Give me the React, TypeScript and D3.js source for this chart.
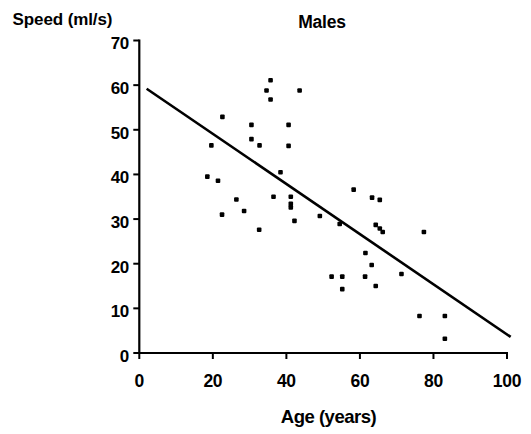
import React from 'react';
import * as d3 from 'd3';

// age (years) and speed (ml/s)
const ages = [
  35.7, 34.6, 35.7, 43.6, 22.6, 30.5, 40.6, 30.5, 32.7, 40.6, 19.6, 38.4,
  18.5, 21.4, 36.5, 41.2, 41.2, 41.2, 26.4, 28.5, 22.5, 42.2, 49.1, 32.6,
  54.5, 58.3, 63.3, 65.4, 64.3, 65.4, 66.2, 77.4, 61.5, 63.2, 52.3, 55.2,
  61.4, 55.2, 64.3, 71.3, 76.2, 83.1, 83.1,
];
const speeds = [
  61.1, 58.8, 56.8, 58.8, 52.9, 51.1, 51.1, 47.9, 46.5, 46.4, 46.5, 40.5,
  39.5, 38.6, 35.0, 35.0, 33.4, 32.6, 34.4, 31.8, 31.0, 29.6, 30.7, 27.6,
  28.9, 36.6, 34.8, 34.3, 28.7, 27.9, 27.1, 27.1, 22.4, 19.7, 17.1, 17.1,
  17.1, 14.3, 15.0, 17.7, 8.3, 8.3, 3.2,
];
// regression line end points
const fitX = [2, 101];
const fitY = [59.2, 3.6];

const xTicks = [0, 20, 40, 60, 80, 100];
const yTicks = [0, 10, 20, 30, 40, 50, 60, 70];

const W = 531;
const H = 434;
const font = '"Liberation Sans", Arial, sans-serif';

export default function App() {
  const x = d3.scaleLinear().domain([0, 100]).range([139.3, 507]);
  const y = d3.scaleLinear().domain([0, 70]).range([353, 40.5]);

  const line = d3
    .line<number>()
    .x((d) => x(d))
    .y((d, i) => y(fitY[i]));

  const s = 4.6;

  return (
    <svg
      width={W}
      height={H}
      style={{ position: 'absolute', left: 0, top: 0, background: '#fff' }}
      fontFamily={font}
      fontWeight="bold"
    >
      <text x={12.5} y={25} fontSize={17} letterSpacing={-0.1}>
        Speed (ml/s)
      </text>
      <text x={322} y={28} fontSize={17.5} textAnchor="middle" letterSpacing={-0.2}>
        Males
      </text>
      <text x={328.5} y={422.5} fontSize={18.5} textAnchor="middle" letterSpacing={-0.5}>
        Age (years)
      </text>

      {/* y axis */}
      <line x1={x(0)} x2={x(0)} y1={y(70) - 1} y2={y(0) + 1} stroke="#000" strokeWidth={2.2} />
      {yTicks.map((t) => (
        <g key={'y' + t}>
          <line x1={x(0) - 6} x2={x(0)} y1={y(t)} y2={y(t)} stroke="#000" strokeWidth={2} />
          <text x={129} y={y(t) + 8.8} fontSize={17} textAnchor="end" letterSpacing={-0.3}>
            {t}
          </text>
        </g>
      ))}

      {/* x axis */}
      <line x1={x(0) - 1} x2={x(100) + 1} y1={y(0)} y2={y(0)} stroke="#000" strokeWidth={2.2} />
      {xTicks.map((t) => (
        <g key={'x' + t}>
          <line x1={x(t)} x2={x(t)} y1={y(0)} y2={y(0) + 6} stroke="#000" strokeWidth={2} />
          <text x={x(t)} y={386.5} fontSize={17.5} textAnchor="middle" letterSpacing={-0.3}>
            {t}
          </text>
        </g>
      ))}

      <path d={line(fitX) || ''} fill="none" stroke="#000" strokeWidth={2.6} />

      {ages.map((a, i) => (
        <rect
          key={i}
          x={x(a) - s / 2}
          y={y(speeds[i]) - s / 2}
          width={s}
          height={s}
          rx={1}
          fill="#000"
        />
      ))}
    </svg>
  );
}
